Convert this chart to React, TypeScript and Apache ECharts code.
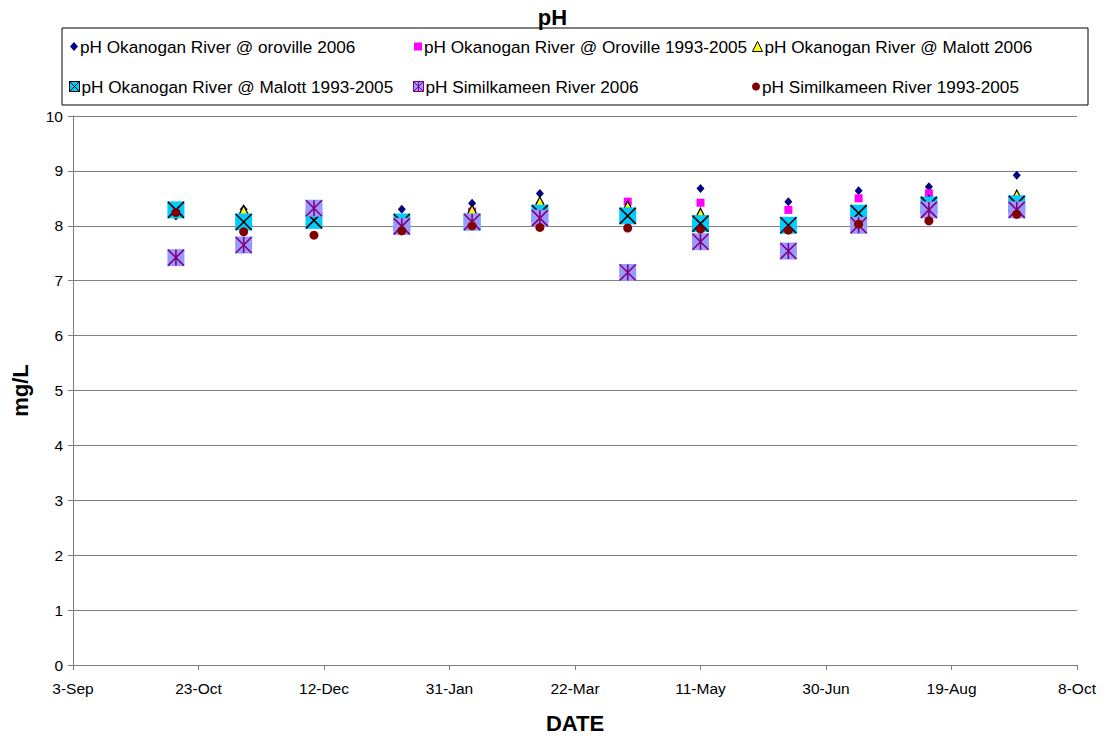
import React, { useEffect, useRef } from "react";
import * as echarts from "echarts";

// Sampling dates (one sampling run per month, Oct 2005 – Sep 2006)
const sampleDates = [
  "2005-10-14", "2005-11-10", "2005-12-08", "2006-01-12", "2006-02-09", "2006-03-08",
  "2006-04-12", "2006-05-11", "2006-06-15", "2006-07-13", "2006-08-10", "2006-09-14",
];

// pH readings per station, aligned with sampleDates
const okanoganOroville2006 = [8.18, 8.3, 8.36, 8.3, 8.41, 8.59, 8.42, 8.68, 8.44, 8.64, 8.71, 8.92];
const okanoganOroville9305 = [8.3, 8.12, 8.2, 8.12, 8.26, 8.36, 8.44, 8.42, 8.29, 8.5, 8.59, 8.48];
const okanoganMalott2006 = [8.3, 8.28, 8.18, 8.1, 8.29, 8.44, 8.36, 8.23, 8.05, 8.25, 8.46, 8.56];
const okanoganMalott9305 = [8.29, 8.07, 8.1, 8.07, 8.07, 8.23, 8.18, 8.04, 8.01, 8.23, 8.38, 8.4];
const similkameen2006 = [7.42, 7.65, 8.32, 7.99, 8.07, 8.14, 7.15, 7.71, 7.54, 8.01, 8.29, 8.29];
const similkameen9305 = [8.24, 7.89, 7.83, 7.91, 8.0, 7.97, 7.96, 7.94, 7.92, 8.03, 8.09, 8.21];

// X axis: days counted from 3-Sep-2005, a tick every 50 days
const axisStart = "2005-09-03";
const axisDays = 400;
const tickStep = 50;
const tickLabels = ["3-Sep", "23-Oct", "12-Dec", "31-Jan", "22-Mar", "11-May", "30-Jun", "19-Aug", "8-Oct"];

const seriesNames = [
  "pH Okanogan River @ oroville 2006",
  "pH Okanogan River @ Oroville 1993-2005",
  "pH Okanogan River @ Malott 2006",
  "pH Okanogan River @ Malott 1993-2005",
  "pH Similkameen River 2006",
  "pH Similkameen River 1993-2005",
];

const FONT = "'Liberation Sans', Arial, Helvetica, sans-serif";
const CROSS = "path://M0,0L10,10M10,0L0,10";
const STAR = "path://M0,0L10,10M10,0L0,10M5,0L5,10";
const BOX_CROSS = "path://M0,0H10V10H0ZM0,0L10,10M10,0L0,10";
const BOX_STAR = "path://M0,0H10V10H0ZM0,0L10,10M10,0L0,10M5,0L5,10";

function dayOffset(d: string): number {
  const p = (s: string) => {
    const [y, m, dd] = s.split("-").map(Number);
    return Date.UTC(y, m - 1, dd);
  };
  return Math.round((p(d) - p(axisStart)) / 86400000);
}

function pairs(values: number[]): number[][] {
  return sampleDates.map((d, i) => [dayOffset(d), values[i]]);
}

export default function App() {
  const ref = useRef<HTMLDivElement>(null);

  useEffect(() => {
    if (!ref.current) return;
    const chart = echarts.init(ref.current, undefined, { renderer: "svg" });

    const legendPos = [
      { left: 70, top: 38 },
      { left: 414, top: 38 },
      { left: 752, top: 38 },
      { left: 69, top: 78 },
      { left: 413, top: 78 },
      { left: 752, top: 78 },
    ];
    const legendIcons = [
      { icon: "diamond", itemStyle: { color: "#000080", borderWidth: 0 } },
      { icon: "rect", itemStyle: { color: "#FF00FF", borderWidth: 0 } },
      { icon: "triangle", itemStyle: { color: "#FFFF00", borderColor: "#000", borderWidth: 1 } },
      { icon: BOX_CROSS, itemStyle: { color: "#00CCFF", borderColor: "#000", borderWidth: 1 } },
      { icon: BOX_STAR, itemStyle: { color: "#9999FF", borderColor: "#800080", borderWidth: 1 } },
      { icon: "circle", itemStyle: { color: "#800000", borderWidth: 0 } },
    ];
    const legendSizes = [
      [8, 9], [8, 8], [10, 10], [10, 12], [10, 12], [8, 8],
    ];

    const legends = seriesNames.map((name, i) => ({
      show: true,
      left: legendPos[i].left,
      top: legendPos[i].top,
      padding: 0,
      itemWidth: legendSizes[i][0],
      itemHeight: legendSizes[i][1],
      itemGap: 0,
      selectedMode: false,
      textStyle: { fontFamily: FONT, fontSize: 17.2, color: "#000", padding: [0, 0, 0, -3] },
      data: [{ name, ...legendIcons[i] }],
    }));

    const base = { type: "scatter" as const, silent: true };

    chart.setOption({
      animation: false,
      backgroundColor: "#fff",
      title: {
        text: "pH",
        left: "center",
        top: 1,
        textStyle: { fontFamily: FONT, fontSize: 22, fontWeight: "bold", color: "#000" },
      },
      legend: legends,
      graphic: [
        {
          type: "rect",
          shape: { x: 62, y: 28, width: 1026, height: 77 },
          style: { fill: "none", stroke: "#000", lineWidth: 1 },
          silent: true,
        },
      ],
      grid: {
        left: 73,
        right: 28,
        top: 116,
        bottom: 71,
        containLabel: false,
        outerBoundsMode: "none",
      },
      xAxis: {
        type: "value",
        min: 0,
        max: axisDays,
        interval: tickStep,
        name: "DATE",
        nameLocation: "middle",
        nameGap: 47,
        nameTextStyle: { fontFamily: FONT, fontSize: 22, fontWeight: "bold", color: "#000" },
        axisLine: { show: true, lineStyle: { color: "#808080", width: 1 } },
        axisTick: { show: true, length: 5, lineStyle: { color: "#808080" } },
        axisLabel: {
          margin: 15,
          fontFamily: FONT,
          fontSize: 15.5,
          color: "#000",
          formatter: (v: number) => tickLabels[Math.round(v / tickStep)] ?? "",
        },
        splitLine: { show: false },
      },
      yAxis: {
        type: "value",
        min: 0,
        max: 10,
        interval: 1,
        name: "mg/L",
        nameLocation: "middle",
        nameRotate: 90,
        nameGap: 42,
        nameTextStyle: { fontFamily: FONT, fontSize: 22, fontWeight: "bold", color: "#000" },
        axisLine: { show: true, lineStyle: { color: "#808080", width: 1 } },
        axisTick: { show: true, length: 5, lineStyle: { color: "#808080" } },
        axisLabel: { margin: 10, fontFamily: FONT, fontSize: 15.5, color: "#000" },
        splitLine: { show: true, lineStyle: { color: "#808080", width: 1 } },
      },
      series: [
        {
          ...base,
          name: seriesNames[0],
          data: pairs(okanoganOroville2006),
          symbol: "diamond",
          symbolSize: [8, 9],
          itemStyle: { color: "#000080", opacity: 1 },
        },
        {
          ...base,
          name: seriesNames[1],
          data: pairs(okanoganOroville9305),
          symbol: "rect",
          symbolSize: 8,
          itemStyle: { color: "#FF00FF", opacity: 1 },
        },
        {
          ...base,
          name: seriesNames[2],
          data: pairs(okanoganMalott2006),
          symbol: "triangle",
          symbolSize: [10, 10],
          itemStyle: { color: "#FFFF00", borderColor: "#000", borderWidth: 1.2, opacity: 1 },
        },
        {
          ...base,
          name: seriesNames[3],
          data: pairs(okanoganMalott9305),
          symbol: "rect",
          symbolSize: 17,
          itemStyle: { color: "#00CCFF", opacity: 1 },
        },
        {
          ...base,
          name: seriesNames[3],
          data: pairs(okanoganMalott9305),
          symbol: CROSS,
          symbolSize: 16,
          itemStyle: { color: "rgba(0,0,0,0)", borderColor: "#000", borderWidth: 1.6, opacity: 1 },
        },
        {
          ...base,
          name: seriesNames[4],
          data: pairs(similkameen2006),
          symbol: "rect",
          symbolSize: 17,
          itemStyle: { color: "#9999FF", opacity: 1 },
        },
        {
          ...base,
          name: seriesNames[4],
          data: pairs(similkameen2006),
          symbol: STAR,
          symbolSize: 16,
          itemStyle: { color: "rgba(0,0,0,0)", borderColor: "#800080", borderWidth: 1.6, opacity: 1 },
        },
        {
          ...base,
          name: seriesNames[5],
          data: pairs(similkameen9305),
          symbol: "circle",
          symbolSize: 9,
          itemStyle: { color: "#800000", opacity: 1 },
        },
      ],
    });

    return () => chart.dispose();
  }, []);

  return (
    <div
      ref={ref}
      style={{ position: "absolute", left: 0, top: 0, width: 1105, height: 736 }}
    />
  );
}
